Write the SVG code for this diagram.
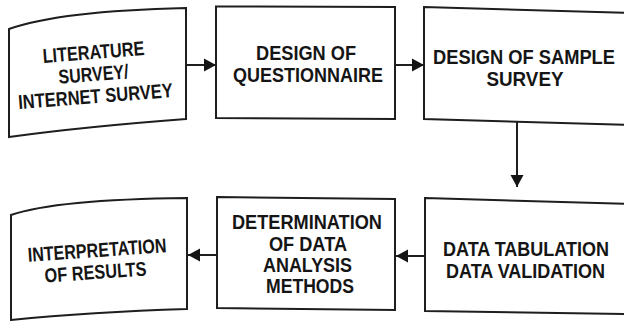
<svg xmlns="http://www.w3.org/2000/svg" width="624" height="321" viewBox="0 0 624 321">
  <defs>
    <style>
      .box { fill: #ffffff; stroke: #1e1e1e; stroke-width: 2; stroke-linejoin: miter; }
      .lbl { font-family: "Liberation Sans", Arial, sans-serif; font-weight: bold; font-size: 20px; fill: #151515; text-anchor: middle; }
      .edge { stroke: #1e1e1e; stroke-width: 2; fill: none; marker-end: url(#arrow); }
    </style>
    <marker id="arrow" markerUnits="userSpaceOnUse" markerWidth="13" markerHeight="14" refX="12" refY="7" orient="auto">
      <path d="M0,0.5 L12,7 L0,13.5 Z" fill="#151515"/>
    </marker>
  </defs>

  <rect width="624" height="321" fill="#ffffff"/>

  <!-- connectors -->
  <g id="connectors">
    <line class="edge" x1="186" y1="65" x2="216" y2="65"/>
    <line class="edge" x1="395" y1="65" x2="424" y2="65"/>
    <line class="edge" x1="517" y1="122" x2="517" y2="187"/>
    <line class="edge" x1="425" y1="256" x2="396" y2="256"/>
    <line class="edge" x1="217" y1="255" x2="188" y2="255"/>
  </g>

  <!-- top row -->
  <g id="literature-survey">
    <path class="box" d="M9,29 C40,18 100,10 186,8 L186,119 C120,124 60,130 9,137 Z"/>
    <text class="lbl" transform="translate(94,59) rotate(-4.5)" textLength="102" lengthAdjust="spacingAndGlyphs">LITERATURE</text>
    <text class="lbl" transform="translate(94,81) rotate(-4.5)" textLength="70" lengthAdjust="spacingAndGlyphs">SURVEY/</text>
    <text class="lbl" transform="translate(96,103) rotate(-4.5)" textLength="155" lengthAdjust="spacingAndGlyphs">INTERNET SURVEY</text>
  </g>

  <g id="design-questionnaire">
    <path class="box" d="M216,6.5 L395,7 L395,119 L216,118 Z"/>
    <text class="lbl" x="306" y="60" textLength="100" lengthAdjust="spacingAndGlyphs">DESIGN OF</text>
    <text class="lbl" x="308" y="82" textLength="150" lengthAdjust="spacingAndGlyphs">QUESTIONNAIRE</text>
  </g>

  <g id="design-sample-survey">
    <path class="box" d="M424,7 L630,13 L630,125 L424,119 Z"/>
    <text class="lbl" x="524" y="64" textLength="182" lengthAdjust="spacingAndGlyphs">DESIGN OF SAMPLE</text>
    <text class="lbl" x="525" y="86" textLength="77" lengthAdjust="spacingAndGlyphs">SURVEY</text>
  </g>

  <!-- bottom row -->
  <g id="data-tabulation">
    <path class="box" d="M425,198 L630,204 L630,314 L425,311 Z"/>
    <text class="lbl" x="526" y="256" textLength="166" lengthAdjust="spacingAndGlyphs">DATA TABULATION</text>
    <text class="lbl" x="525.5" y="277.5" textLength="159" lengthAdjust="spacingAndGlyphs">DATA VALIDATION</text>
  </g>

  <g id="analysis-methods">
    <path class="box" d="M217,197 L395,199 L395,310 L217,308 Z"/>
    <text class="lbl" x="307" y="229" textLength="150" lengthAdjust="spacingAndGlyphs">DETERMINATION</text>
    <text class="lbl" x="308" y="251" textLength="78" lengthAdjust="spacingAndGlyphs">OF DATA</text>
    <text class="lbl" x="307.5" y="272" textLength="89" lengthAdjust="spacingAndGlyphs">ANALYSIS</text>
    <text class="lbl" x="310" y="293" textLength="88" lengthAdjust="spacingAndGlyphs">METHODS</text>
  </g>

  <g id="interpretation">
    <path class="box" d="M11,215 C40,205 100,199 187,198 L187,309 C120,311 60,315 11,320 Z"/>
    <text class="lbl" transform="translate(97.5,257) rotate(-4)" textLength="139" lengthAdjust="spacingAndGlyphs">INTERPRETATION</text>
    <text class="lbl" transform="translate(96,279) rotate(-4)" textLength="102" lengthAdjust="spacingAndGlyphs">OF RESULTS</text>
  </g>
</svg>
